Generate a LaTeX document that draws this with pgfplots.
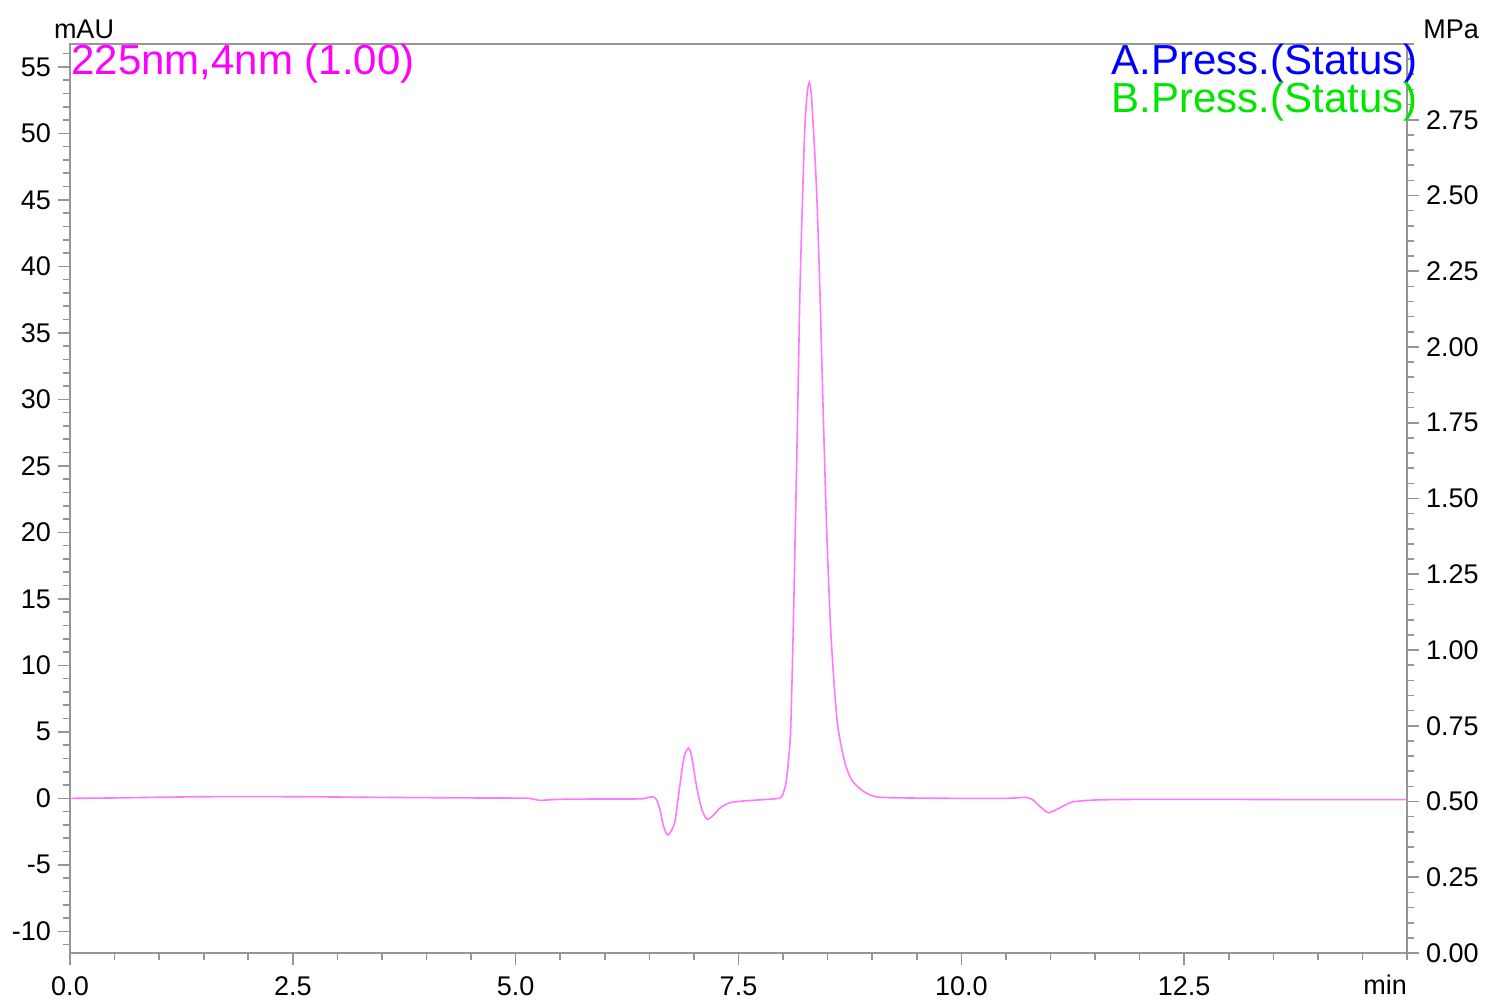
\documentclass[border=0pt]{standalone}
\usepackage{fontspec}
\setmainfont{Liberation Sans}
\usepackage{pgfplots}
\pgfplotsset{compat=1.18}
\usepackage{pgfplotstable}
\usetikzlibrary{calc}

\definecolor{trace}{RGB}{255,120,255}
\definecolor{framegray}{RGB}{150,150,150}
\definecolor{titlemag}{RGB}{255,0,255}
\definecolor{pressblue}{RGB}{0,0,255}
\definecolor{pressgreen}{RGB}{0,230,0}

% 225 nm trace
\pgfplotstableread{
t      mau
0.00   0.00
0.50   0.03
1.00   0.08
1.50   0.12
2.00   0.13
2.50   0.12
3.00   0.10
3.50   0.07
4.00   0.05
4.50   0.03
5.00   0.02
5.15   0.00
5.27  -0.15
5.40  -0.10
5.60  -0.06
6.00  -0.05
6.40  -0.04
6.48   0.06
6.54   0.12
6.58  -0.10
6.62  -0.88
6.66  -2.13
6.705 -2.76
6.75  -2.39
6.79  -1.63
6.84   0.87
6.89   3.13
6.94   3.78
6.975  3.13
7.03   0.87
7.09  -0.88
7.15  -1.58
7.22  -1.26
7.29  -0.75
7.40  -0.33
7.59  -0.18
7.82  -0.08
7.965  0.02
8.002  0.40
8.032  1.15
8.058  2.66
8.085  5.14
8.114 12.67
8.137 20.20
8.160 27.72
8.189 38.03
8.220 45.56
8.245 50.55
8.270 53.00
8.294 53.85
8.316 53.00
8.339 50.55
8.377 45.56
8.414 38.03
8.444 30.50
8.489 20.20
8.534 12.67
8.583  7.63
8.619  5.14
8.694  2.66
8.770  1.38
8.882  0.62
9.05   0.10
9.50   0.02
10.00  0.00
10.50  0.00
10.65  0.05
10.72  0.08
10.80 -0.10
10.88 -0.60
10.975 -1.08
11.08 -0.80
11.18 -0.45
11.26 -0.25
11.52 -0.12
12.00 -0.08
13.00 -0.08
14.00 -0.10
15.00 -0.10
}\chrom

\begin{document}
\begin{tikzpicture}
\pgfplotsset{
  every axis/.append style={
    scale only axis, width=668.5pt, height=454.5pt,
    xmin=0, xmax=15,
    axis line style={framegray, line width=0.8pt},
    every tick/.style={framegray, line width=0.8pt},
    tick align=outside,
    major tick length=6pt, minor tick length=3.5pt,
    tick label style={font=\fontsize{13.5}{15}\selectfont, text=black},
    /pgf/number format/assume math mode=true,
  }
}
\begin{axis}[
    name=main,
    ymin=-11.63, ymax=56.72,
    xtick={0,2.5,...,12.5},
    xticklabels={0.0,2.5,5.0,7.5,10.0,12.5},
    xticklabel style={yshift=-2.5pt},
    minor xtick={0,0.5,...,15},
    ytick={-10,-5,...,55},
    minor ytick={-11,-10,...,56},
    xtick pos=bottom, ytick pos=left,
  ]
  \addplot[trace, line width=0.8pt, smooth, tension=0.4] table[x=t, y=mau] {\chrom};
\end{axis}
\begin{axis}[
    ymin=0, ymax=3,
    axis x line=none,
    axis y line*=right,
    ytick={0,0.25,...,2.75},
    minor ytick={0,0.05,...,3},
    yticklabel style={/pgf/number format/.cd, fixed, fixed zerofill, precision=2},
  ]
\end{axis}

\node[anchor=base, inner sep=0, font=\fontsize{13.5}{15}\selectfont] at ($(main.south east)+(-11pt,-20.5pt)$) {min};
\node[anchor=base, inner sep=0, font=\fontsize{13.5}{15}\selectfont] at ($(main.north west)+(7pt,2.85pt)$) {mAU};
\node[anchor=base west, inner sep=0, font=\fontsize{13.5}{15}\selectfont] at ($(main.north east)+(8pt,2.85pt)$) {MPa};
\node[anchor=base west, inner sep=0, text=titlemag, font=\fontsize{21}{24}\selectfont] at ($(main.north west)+(0.5pt,-15.5pt)$) {225nm,4nm (1.00)};
\node[anchor=base east, inner sep=0, text=pressblue, font=\fontsize{21}{24}\selectfont] at ($(main.north east)+(5.5pt,-15.5pt)$) {A.Press.(Status)};
\node[anchor=base east, inner sep=0, text=pressgreen, font=\fontsize{21}{24}\selectfont] at ($(main.north east)+(5.5pt,-34.5pt)$) {B.Press.(Status)};

\pgfresetboundingbox
\useasboundingbox ($(main.south west)+(-35pt,-24.5pt)$) rectangle ($(main.north east)+(42pt,22pt)$);
\end{tikzpicture}
\end{document}
